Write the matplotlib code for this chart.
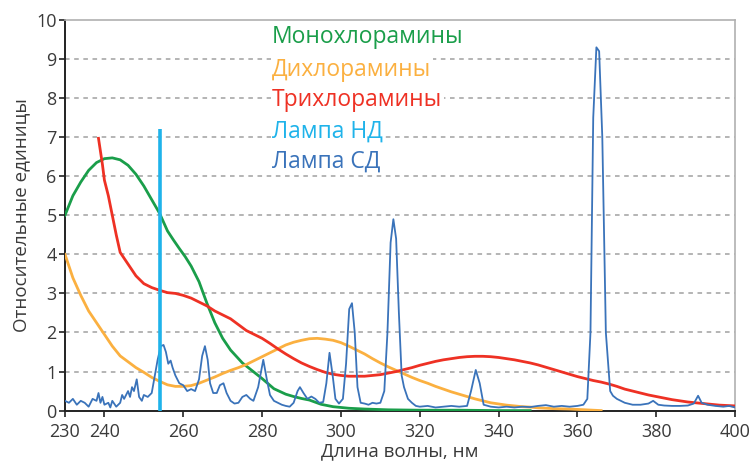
import numpy as np
import matplotlib.pyplot as plt

plt.rcParams['font.family'] = ['Open Sans', 'DejaVu Sans']

# Монохлорамины
mono_x = [230, 232, 234, 236, 238, 240, 242, 244, 246, 248, 250, 252, 254, 256, 257.5,
          259, 260.5, 262, 264, 266, 268, 270, 272, 275, 277, 280, 283, 286, 288, 290,
          292, 295, 298, 302, 306, 312, 320, 330, 340, 348]
mono_y = [5.0, 5.5, 5.85, 6.15, 6.35, 6.45, 6.47, 6.42, 6.28, 6.05, 5.75, 5.4, 5.05, 4.6, 4.37,
          4.15, 3.94, 3.7, 3.3, 2.75, 2.25, 1.85, 1.55, 1.22, 1.06, 0.82, 0.56, 0.42, 0.36, 0.31,
          0.27, 0.16, 0.1, 0.06, 0.04, 0.02, 0.01, 0.01, 0.0, 0.0]

# Дихлорамины
di_x = [230, 232, 234, 236, 238, 240, 242, 244, 246, 248, 250, 252, 254, 256, 258, 260, 262,
        264, 266, 268, 270, 272, 274, 276, 278, 280, 282, 284, 286, 288, 290, 292, 294, 296,
        298, 300, 302, 304, 306, 308, 310, 312, 314, 316, 318, 320, 322, 324, 326, 328, 330,
        332, 334, 336, 338, 340, 342, 344, 346, 348, 350, 354, 358, 362, 366]
di_y = [4.0, 3.4, 2.95, 2.55, 2.25, 1.95, 1.65, 1.4, 1.25, 1.1, 0.98, 0.85, 0.75, 0.66, 0.62,
        0.62, 0.64, 0.7, 0.78, 0.86, 0.95, 1.03, 1.1, 1.18, 1.28, 1.38, 1.48, 1.58, 1.68, 1.75,
        1.8, 1.84, 1.85, 1.83, 1.8, 1.74, 1.65, 1.55, 1.45, 1.33, 1.22, 1.12, 1.03, 0.94, 0.85,
        0.77, 0.7, 0.62, 0.55, 0.48, 0.42, 0.36, 0.3, 0.25, 0.2, 0.17, 0.14, 0.12, 0.1, 0.09,
        0.07, 0.05, 0.04, 0.02, 0.0]

# Трихлорамины
tri_x = [238.5, 239.5, 240, 241, 242, 243, 244, 246, 248, 250, 252, 254, 256, 258, 260, 262,
         264, 266, 268, 270, 272, 274, 276, 278, 280, 282, 284, 286, 288, 290, 292, 294, 296,
         298, 300, 302, 304, 306, 308, 310, 312, 314, 316, 318, 320, 322, 324, 326, 328, 330,
         332, 334, 336, 338, 340, 342, 344, 346, 348, 350, 352, 354, 356, 358, 360, 362, 364,
         366, 368, 370, 372, 374, 376, 378, 380, 382, 384, 386, 388, 390, 392, 394, 396, 398, 400]
tri_y = [6.97, 6.3, 5.9, 5.5, 5.0, 4.5, 4.05, 3.75, 3.45, 3.25, 3.15, 3.08, 3.02, 3.0, 2.95,
         2.88, 2.78, 2.68, 2.55, 2.45, 2.35, 2.2, 2.05, 1.95, 1.85, 1.72, 1.58, 1.45, 1.33, 1.22,
         1.13, 1.05, 0.98, 0.93, 0.9, 0.88, 0.88, 0.88, 0.9, 0.92, 0.96, 1.0, 1.05, 1.1, 1.16,
         1.21, 1.26, 1.3, 1.33, 1.36, 1.38, 1.39, 1.39, 1.38, 1.36, 1.33, 1.3, 1.26, 1.22, 1.17,
         1.11, 1.05, 0.99, 0.93, 0.87, 0.82, 0.77, 0.73, 0.68, 0.62, 0.55, 0.5, 0.45, 0.4, 0.36,
         0.32, 0.28, 0.25, 0.22, 0.2, 0.18, 0.16, 0.14, 0.13, 0.12]

# Лампа НД (254 нм)
nd_x = 254
nd_h = 7.2

# Лампа СД
sd_x = [230, 231, 232, 233, 234, 235, 236, 237, 238, 238.5, 239, 239.5, 240, 241, 241.5, 242,
        243, 244, 244.5, 245, 246, 246.5, 247, 247.5, 248.2, 248.8, 249.5, 250, 251, 252,
        252.8, 253.5, 254.3, 255, 255.6, 256.2, 256.8, 257.3, 258, 259, 260, 261, 262, 263,
        264, 264.8, 265.5, 266.2, 266.8, 267.6, 268.5, 269.3, 270.2, 271, 272, 273, 274, 275,
        276, 277, 277.8, 279, 280.3, 281.2, 282, 283, 284, 285, 286, 287, 288, 289, 289.6,
        290.5, 291.5, 292.5, 293.5, 294.5, 295.5, 296.3, 297.1, 297.9, 298.6, 299.5, 300.5,
        301.3, 302.1, 302.8, 303.5, 304.2, 305, 306, 307, 308, 309, 310, 311, 311.8, 312.6,
        313.3, 314, 314.7, 315.4, 316, 317, 318, 319, 320, 322, 324, 326, 328, 330, 332, 333,
        334.2, 335.2, 336.2, 338, 340, 342, 344, 346, 348, 350, 352, 354, 356, 358, 360, 361.5,
        362.5, 363.3, 364.0, 364.8, 365.5, 366.3, 367.2, 368.3, 369, 370, 371, 372, 374, 376,
        378, 379.2, 380.5, 382, 384, 386, 388, 389.5, 390.6, 391.5, 393, 395, 397, 398.5, 400]
sd_y = [0.25, 0.2, 0.3, 0.15, 0.25, 0.2, 0.1, 0.3, 0.25, 0.45, 0.2, 0.35, 0.15, 0.2, 0.08, 0.25,
        0.1, 0.2, 0.4, 0.3, 0.5, 0.35, 0.6, 0.5, 0.8, 0.35, 0.25, 0.4, 0.35, 0.45,
        0.9, 1.3, 1.65, 1.68, 1.5, 1.2, 1.28, 1.1, 0.9, 0.7, 0.65, 0.5, 0.55, 0.5,
        0.8, 1.4, 1.65, 1.3, 0.7, 0.45, 0.45, 0.65, 0.7, 0.45, 0.25, 0.18, 0.2, 0.35,
        0.4, 0.3, 0.25, 0.6, 1.3, 0.8, 0.4, 0.25, 0.2, 0.15, 0.12, 0.1, 0.2, 0.5, 0.6,
        0.45, 0.3, 0.36, 0.3, 0.2, 0.22, 0.7, 1.48, 0.9, 0.3, 0.18, 0.3,
        1.2, 2.6, 2.75, 2.0, 0.6, 0.2, 0.18, 0.15, 0.2, 0.18, 0.2, 0.5, 2.0, 4.3,
        4.9, 4.4, 2.5, 0.9, 0.6, 0.3, 0.2, 0.12, 0.1, 0.12, 0.08, 0.1, 0.12, 0.1, 0.12, 0.5,
        1.04, 0.7, 0.15, 0.1, 0.08, 0.1, 0.08, 0.1, 0.09, 0.12, 0.14, 0.1, 0.12, 0.1, 0.12, 0.15,
        0.3, 2.0, 7.5, 9.3, 9.2, 7.0, 2.0, 0.5, 0.38, 0.3, 0.25, 0.2, 0.15, 0.15,
        0.18, 0.25, 0.15, 0.13, 0.12, 0.12, 0.13, 0.18, 0.38, 0.2, 0.15, 0.12, 0.1, 0.12, 0.08]

labels = ['Монохлорамины', 'Дихлорамины', 'Трихлорамины', 'Лампа НД', 'Лампа СД']
colors = ['#1a9e4a', '#fbb040', '#ee3124', '#1fb3ea', '#3a73ba']

fig = plt.figure(figsize=(7.53, 4.65), dpi=100)
ax = fig.add_axes([0.0863, 0.117, 0.89, 0.84])

ax.plot(mono_x, mono_y, color=colors[0], lw=2.0, zorder=3)
ax.plot(di_x, di_y, color=colors[1], lw=2.0, zorder=3)
ax.plot(tri_x, tri_y, color=colors[2], lw=2.0, zorder=3)
ax.plot(sd_x, sd_y, color=colors[4], lw=1.3, zorder=4)
ax.vlines(nd_x, 0, nd_h, color=colors[3], lw=2.6, zorder=5)

ax.set_xlim(230, 400)
ax.set_ylim(0, 10)
ax.set_xticks([230, 240, 260, 280, 300, 320, 340, 360, 380, 400])
ax.set_yticks(range(0, 11))

for v in range(1, 10):
    ax.axhline(v, color='#a0a0a0', lw=1.1, ls=(0, (3, 3)), zorder=1)

for s in ['top', 'right']:
    ax.spines[s].set_color('#b0b0b0')
    ax.spines[s].set_linewidth(1.2)
for s in ['left', 'bottom']:
    ax.spines[s].set_color('#222222')
    ax.spines[s].set_linewidth(1.4)

ax.tick_params(direction='out', length=4, width=1.2, color='#222222',
               labelsize=13, labelcolor='#3a3a3a')
ax.tick_params(axis='y', pad=2)
ax.tick_params(axis='x', pad=5)
ax.set_xlabel('Длина волны, нм', fontsize=13.5, color='#3a3a3a', labelpad=1)
ax.set_ylabel('Относительные единицы', fontsize=13.5, color='#3a3a3a', labelpad=4)

ty = [9.57, 8.72, 7.95, 7.14, 6.38]
for lab, c, y in zip(labels, colors, ty):
    ax.text(282.5, y, lab, color=c, fontsize=16.5, va='center', ha='left', zorder=2,
            bbox=dict(facecolor='white', edgecolor='none', pad=1))

fig.savefig('out.png', dpi=100)
